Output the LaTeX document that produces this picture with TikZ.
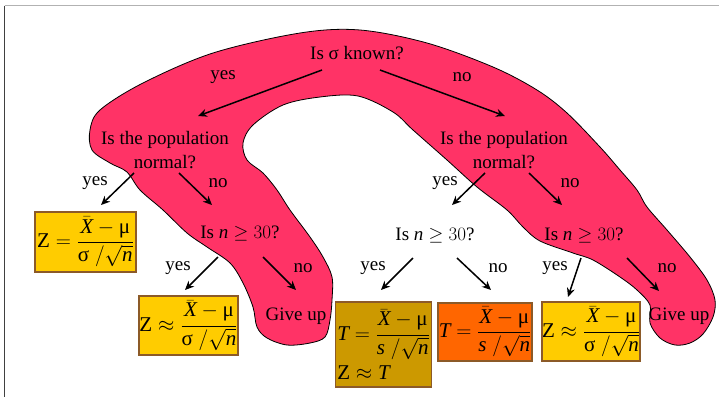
\RequirePackage{fix-cm}
\documentclass[tikz,border=0pt]{standalone}
\usepackage{fontspec}
\setmainfont{Liberation Serif}
\usetikzlibrary{arrows.meta}
\definecolor{pinkc}{RGB}{255,51,102}
\definecolor{goldc}{RGB}{255,204,0}
\definecolor{dgoldc}{RGB}{204,153,0}
\definecolor{orangec}{RGB}{255,102,0}
\definecolor{boxline}{RGB}{140,90,40}
\newcommand{\myz}{\mathrm{Z}}
\newcommand{\myfrac}[1]{\frac{\bar{\mathit{X}}-\mbox{μ}}{#1\;/\sqrt{\mathit{n}}}}
\tikzset{
  txt/.style={font=\fontsize{19}{24}\selectfont, inner sep=0pt, align=center},
  arr/.style={line width=1.5pt, -{Stealth[length=9pt,width=8pt]}},
  fbox/.style={draw=boxline, line width=1.2pt, inner sep=0pt, align=center,
    font=\fontsize{21}{24}\selectfont},
  frameline/.style={line width=1.5pt},
}
\begin{document}
\begin{tikzpicture}[x=1pt,y=-1pt]
\useasboundingbox (0,0) rectangle (719,397);
\fill[white] (0,0) rectangle (719,397);
% frame
\draw[frameline, gray!60] (4.5,5.5) -- (719,5.5);
\draw[frameline, black!75] (4.5,5.5) -- (4.5,397);
% pink band
\draw[fill=pinkc, draw=black, line width=0.8pt] plot[smooth cycle, tension=0.55] coordinates {
(320,97) (358,96) (393,112) (413,130) (447,160) (477,187) (507,210) (523,227) (540,241) (573,253) (593,260) (620,277) (637,290) (650,305) (650,323) (660,338) (675,345) (690,343) (703,334) (713,317) (715,300) (707,280) (690,257) (667,230) (647,207) (637,190) (620,170) (600,147) (567,113) (537,90) (493,67) (427,43) (360,30) (300,33) (213,53) (143,83) (100,110) (90,130) (92,150) (110,163) (127,172) (140,190) (163,210) (187,233) (207,247) (230,263) (243,283) (253,307) (257,327) (267,338) (287,345) (310,343) (325,337) (330,320) (332,300) (332,277) (323,257) (310,237) (290,210) (277,190) (263,173) (247,160) (243,143) (253,125) (283,105)};
% questions
\node[txt] (q0) at (357,53) {Is σ known?};
\node[txt] (q1) at (165,150) {Is the population\\normal?};
\node[txt] (q2) at (504,150) {Is the population\\normal?};
\node[txt] (q3) at (240,233) {Is $\mathit{n}\geq 30$?};
\node[txt] (q4) at (435,235) {Is $\mathit{n}\geq 30$?};
\node[txt] (q5) at (584,235) {Is $\mathit{n}\geq 30$?};
\node[txt] (g1) at (296,316) {Give up};
\node[txt] (g2) at (679,316) {Give up};
% labels
\node[txt] (l1) at (223,77) {yes};
\node[txt] (l2) at (462,77) {no};
\node[txt] (l3) at (95,183) {yes};
\node[txt] (l4) at (218,183) {no};
\node[txt] (l5) at (445,183) {yes};
\node[txt] (l6) at (570,183) {no};
\node[txt] (l7) at (178,268) {yes};
\node[txt] (l8) at (303,268) {no};
\node[txt] (l9) at (373,268) {yes};
\node[txt] (l10) at (498,268) {no};
\node[txt] (l11) at (555,268) {yes};
\node[txt] (l12) at (667,268) {no};
% boxes
\node[fbox, fill=goldc, minimum width=101pt, minimum height=60pt] (b1) at (85.5,242)
  {$\displaystyle \myz=\myfrac{\mbox{σ}}$};
\node[fbox, fill=goldc, minimum width=99pt, minimum height=59pt] (b2) at (188.5,325.5)
  {$\displaystyle \myz\approx\myfrac{\mbox{σ}}$};
\node[fbox, fill=dgoldc, minimum width=93pt, minimum height=85pt, align=left, inner sep=2pt] (b3) at (383.5,344.5)
  {$\displaystyle \mathit{T}=\myfrac{\mathit{s}}$\\[5pt]$\myz\approx\mathit{T}$};
\node[fbox, fill=orangec, minimum width=94pt, minimum height=58pt] (b4) at (485,332)
  {$\displaystyle \mathit{T}=\myfrac{\mathit{s}}$};
\node[fbox, fill=goldc, minimum width=98pt, minimum height=59pt] (b5) at (591,331.5)
  {$\displaystyle \myz\approx\myfrac{\mbox{σ}}$};
% arrow end points
\coordinate (a1s) at (322,70);  \coordinate (a1e) at (198,116);
\coordinate (a2s) at (380,70);  \coordinate (a2e) at (505,116);
\coordinate (a3s) at (134,173); \coordinate (a3e) at (101,205);
\coordinate (a4s) at (179,173); \coordinate (a4e) at (212,205);
\coordinate (a5s) at (485,173); \coordinate (a5e) at (452,205);
\coordinate (a6s) at (529,173); \coordinate (a6e) at (562,205);
\coordinate (a7s) at (218,257); \coordinate (a7e) at (185,290);
\coordinate (a8s) at (263,257); \coordinate (a8e) at (296,290);
\coordinate (a9s) at (413,258); \coordinate (a9e) at (381,290);
\coordinate (a10s) at (457,258); \coordinate (a10e) at (491,290);
\coordinate (a11s) at (581,258); \coordinate (a11e) at (568,297);
\coordinate (a12s) at (627,258); \coordinate (a12e) at (659,291);
\foreach \i in {1,...,12} {\draw[arr] (a\i s) -- (a\i e);}
\end{tikzpicture}
\end{document}
